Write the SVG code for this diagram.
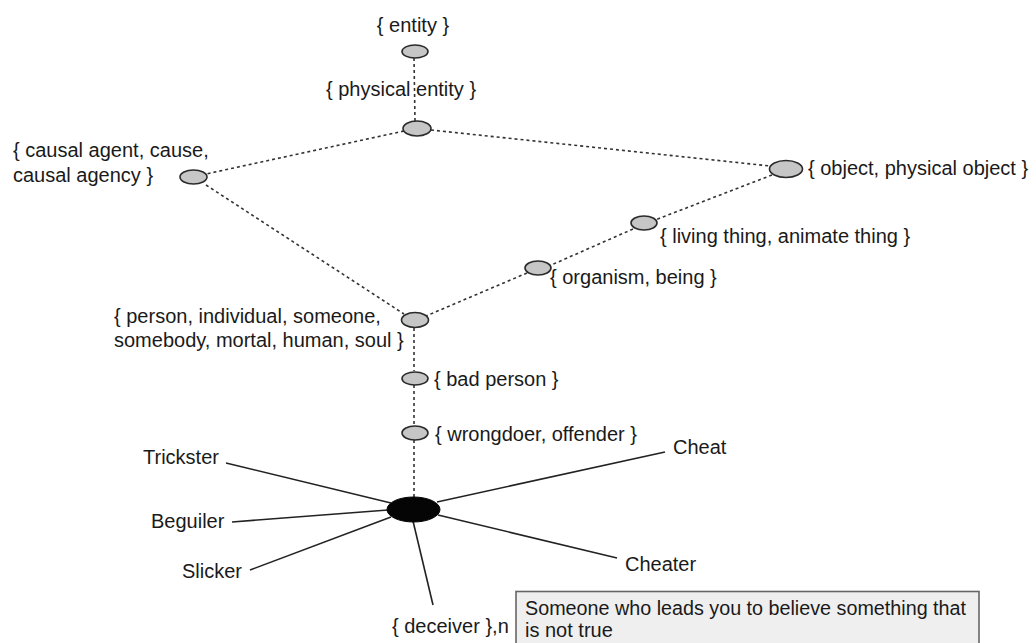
<svg xmlns="http://www.w3.org/2000/svg" width="1036" height="643" viewBox="0 0 1036 643">
<style>
text{font-family:"Liberation Sans",Arial,sans-serif;font-size:20px;fill:#1a1a1a}
.n{fill:#c6c6c6;stroke:#2a2a2a;stroke-width:1.6}
.b{fill:#050505;stroke:#050505;stroke-width:1}
.d{stroke:#333;stroke-width:1.6;stroke-dasharray:3 3;fill:none}
.s{stroke:#222;stroke-width:1.6;fill:none}
</style>
<rect width="1036" height="643" fill="#fff"/>
<g id="connectors">
<line class="d" x1="414" y1="58" x2="415" y2="121"/>
<line class="d" x1="404" y1="131" x2="206" y2="174"/>
<line class="d" x1="431" y1="130" x2="770" y2="166"/>
<line class="d" x1="206" y1="185" x2="404" y2="314"/>
<line class="d" x1="772" y1="175" x2="655" y2="220"/>
<line class="d" x1="633" y1="229" x2="549" y2="266"/>
<line class="d" x1="527" y1="273" x2="426" y2="316"/>
<line class="d" x1="414" y1="328" x2="414" y2="371"/>
<line class="d" x1="414" y1="385" x2="414" y2="426"/>
<line class="d" x1="414" y1="440" x2="414" y2="497"/>
<line class="s" x1="226" y1="463" x2="391" y2="503"/>
<line class="s" x1="232" y1="522" x2="388" y2="510"/>
<line class="s" x1="250" y1="570" x2="391" y2="517"/>
<line class="s" x1="413" y1="521" x2="433" y2="605"/>
<line class="s" x1="437" y1="502" x2="665" y2="452"/>
<line class="s" x1="438" y1="515" x2="617" y2="558"/>
</g>
<g id="entity"><ellipse class="n" cx="415" cy="51.5" rx="13" ry="6.5"/><text x="413" y="32" text-anchor="middle">{ entity }</text></g>
<g id="physical-entity"><ellipse class="n" cx="417" cy="128.5" rx="14" ry="7.5"/><text x="326" y="96">{ physical entity }</text></g>
<g id="causal-agent"><ellipse class="n" cx="193.5" cy="177" rx="13.5" ry="7"/><text x="13" y="157">{ causal agent, cause,</text><text x="13" y="182">causal agency }</text></g>
<g id="object"><ellipse class="n" cx="786" cy="169" rx="16.5" ry="8.5"/><text x="808" y="175">{ object, physical object }</text></g>
<g id="living-thing"><ellipse class="n" cx="644" cy="223" rx="13" ry="7"/><text x="660" y="243">{ living thing, animate thing }</text></g>
<g id="organism"><ellipse class="n" cx="538" cy="268" rx="13" ry="7"/><text x="550" y="284">{ organism, being }</text></g>
<g id="person"><ellipse class="n" cx="415" cy="320" rx="13.5" ry="7.5"/><text x="114" y="323">{ person, individual, someone,</text><text x="114" y="347">somebody, mortal, human, soul }</text></g>
<g id="bad-person"><ellipse class="n" cx="415" cy="378.5" rx="13" ry="6.5"/><text x="434" y="386">{ bad person }</text></g>
<g id="wrongdoer"><ellipse class="n" cx="415" cy="433" rx="13" ry="7"/><text x="435" y="441">{ wrongdoer, offender }</text></g>
<g id="deceiver"><ellipse class="b" cx="413.5" cy="509.5" rx="26.5" ry="12.5"/><text x="392" y="633">{ deceiver },n</text></g>
<g id="trickster"><text x="143" y="464">Trickster</text></g>
<g id="beguiler"><text x="151" y="528">Beguiler</text></g>
<g id="slicker"><text x="182" y="578">Slicker</text></g>
<g id="cheat"><text x="673" y="454">Cheat</text></g>
<g id="cheater"><text x="625" y="571">Cheater</text></g>
<g id="gloss"><rect x="516" y="591.5" width="463" height="60" fill="#efefef" stroke="#666" stroke-width="1.6"/><text x="525" y="615" textLength="441" lengthAdjust="spacingAndGlyphs">Someone who leads you to believe something that</text><text x="525" y="637">is not true</text></g>
</svg>
